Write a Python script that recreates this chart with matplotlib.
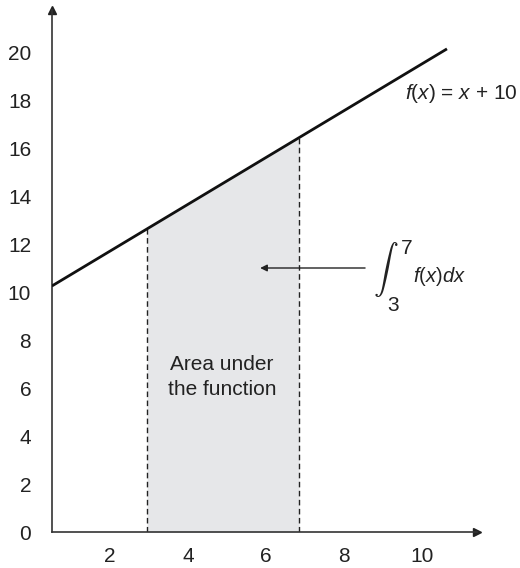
import numpy as np
import matplotlib
matplotlib.use("Agg")
import matplotlib.pyplot as plt

plt.rcParams["font.family"] = ["Liberation Sans", "DejaVu Sans"]
plt.rcParams["mathtext.fontset"] = "custom"
plt.rcParams["mathtext.rm"] = "Liberation Sans"
plt.rcParams["mathtext.it"] = "Liberation Sans:italic"

# values
line_x = [0.51, 10.64]
line_y = [10.25, 20.13]
area_lo = 2.95
area_hi = 6.85
x_ticks = [2, 4, 6, 8, 10]
y_ticks = [0, 2, 4, 6, 8, 10, 12, 14, 16, 18, 20]

fig = plt.figure(figsize=(5.2, 5.68), dpi=100)
ax = fig.add_axes([52 / 520, 36 / 568, 425 / 520, 522 / 568])
ax.set_xlim(0.513, 11.41)
ax.set_ylim(0, 21.75)

# shaded area under the line
xs = np.array([area_lo, area_hi])
ys = np.interp(xs, line_x, line_y)
ax.fill_between(xs, 0, ys, color="#e6e7e9", lw=0, zorder=1)
for xv, yv in zip(xs, ys):
    ax.plot([xv, xv], [0, yv], color="#222222", lw=1.0, ls=(0, (4, 2.5)), zorder=2)

ax.plot(line_x, line_y, color="#111111", lw=2.0, solid_capstyle="butt", zorder=3)

# axes with arrow heads
for side in ["top", "right"]:
    ax.spines[side].set_visible(False)
for side in ["left", "bottom"]:
    ax.spines[side].set_color("#333333")
    ax.spines[side].set_linewidth(1.2)
ax.plot(1, 0, ">", color="#222222", ms=6, transform=ax.transAxes, clip_on=False)
ax.plot(0, 1, "^", color="#222222", ms=6, transform=ax.transAxes, clip_on=False)

ax.set_xticks(x_ticks)
ax.set_yticks(y_ticks)
ax.tick_params(length=0, labelsize=15, labelcolor="#222222")
ax.tick_params(axis="x", pad=11)
ax.tick_params(axis="y", pad=15)

ax.text(9.56, 18.29, r"$f$($x$) = $x$ + 10", fontsize=15, color="#222222",
        ha="left", va="center")
ax.text(4.87, 6.46, "Area under\nthe function", fontsize=15, color="#222222",
        ha="center", va="center", linespacing=1.45)

ax.annotate("", xy=(5.85, 11.0), xytext=(8.54, 11.0),
            arrowprops=dict(arrowstyle="-|>", color="#222222", lw=1.0,
                            mutation_scale=10, shrinkA=0, shrinkB=0))
ax.text(9.08, 10.92, r"$\int$", fontsize=18, math_fontfamily="cm", color="#222222",
        ha="center", va="center")
ax.text(9.62, 11.8, "7", fontsize=15, color="#222222", ha="center", va="center")
ax.text(9.26, 9.42, "3", fontsize=15, color="#222222", ha="center", va="center")
ax.text(9.77, 10.63, r"$f$($x$)$dx$", fontsize=14.5, color="#222222",
        ha="left", va="center")

fig.savefig("out.png", dpi=100)
